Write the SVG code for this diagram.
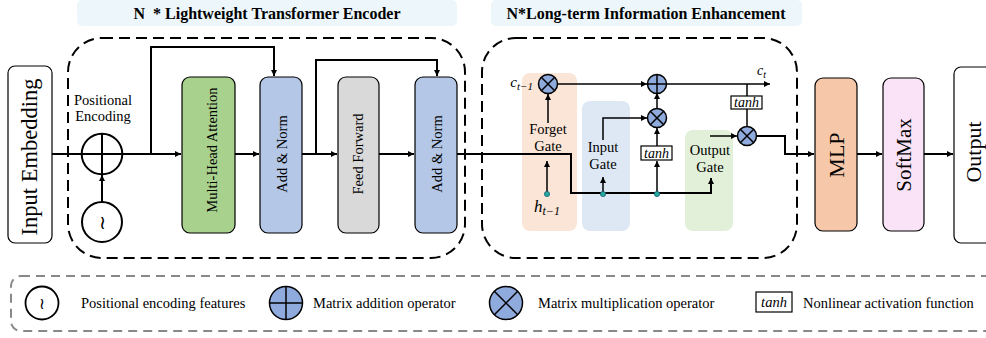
<svg xmlns="http://www.w3.org/2000/svg" width="986" height="338" viewBox="0 0 986 338">
<defs>
<marker id="ah" viewBox="0 0 10 10" refX="10" refY="5" markerWidth="6" markerHeight="6" markerUnits="userSpaceOnUse" orient="auto">
<path d="M0,0 L10,5 L0,10 z" fill="#000"/>
</marker>
<style>
.t{font-family:"Liberation Serif","Times New Roman",serif;fill:#000}
.title{font-family:"Liberation Serif","Times New Roman",serif;font-weight:bold;font-size:16px;fill:#000}
.m{font-family:"Liberation Serif","Times New Roman",serif;font-style:italic;fill:#000}
.box{stroke:#000;stroke-width:1.2}
.ln{fill:none;stroke:#000;stroke-width:2}
.ln1{fill:none;stroke:#000;stroke-width:1.5}
.op{fill:#8faadc;stroke:#000;stroke-width:1.5}
.opl{stroke:#000;stroke-width:1.5}
.dot{fill:#25a99b;stroke:#1d5f7a;stroke-width:0.8}
.dash{fill:none;stroke:#000;stroke-width:2;stroke-dasharray:11,6}
</style>
</defs>

<!-- title bands -->
<g id="title-encoder">
<rect x="77" y="0" width="380" height="26" rx="5" fill="#edf7fb"/>
<text class="title" x="267" y="19" text-anchor="middle" xml:space="preserve">N  * Lightweight Transformer Encoder</text>
</g>
<g id="title-enhancement">
<rect x="491" y="0" width="311" height="26" rx="5" fill="#edf7fb"/>
<text class="title" x="646" y="19" text-anchor="middle">N*Long-term Information Enhancement</text>
</g>

<!-- containers -->
<g id="encoder-container"><rect class="dash" x="68" y="38" width="397" height="220" rx="34"/></g>
<g id="lstm-container"><rect class="dash" x="482" y="38" width="315" height="220" rx="34"/></g>

<!-- gate backgrounds -->
<g id="forget-gate-bg"><rect x="522" y="73" width="55" height="158" rx="8" fill="#fbe5d6"/></g>
<g id="input-gate-bg"><rect x="582" y="101" width="48" height="130" rx="8" fill="#dee8f5"/></g>
<g id="output-gate-bg"><rect x="685" y="130" width="48" height="101" rx="8" fill="#e2f0d9"/></g>

<!-- connectors -->
<g id="connectors">
<line class="ln" x1="52" y1="154" x2="181" y2="154" marker-end="url(#ah)"/>
<path class="ln" d="M151,154 V47 H274 V76" marker-end="url(#ah)"/>
<line class="ln" x1="235" y1="154" x2="259" y2="154" marker-end="url(#ah)"/>
<line class="ln" x1="302" y1="154" x2="337" y2="154" marker-end="url(#ah)"/>
<path class="ln" d="M316,154 V60 H437 V76" marker-end="url(#ah)"/>
<line class="ln" x1="379" y1="154" x2="414" y2="154" marker-end="url(#ah)"/>
<line class="ln" x1="102" y1="202" x2="102" y2="175" marker-end="url(#ah)"/>
<path class="ln" d="M457,154 H571 V193 H711 V178" marker-end="url(#ah)"/>
<line class="ln1" x1="548" y1="123" x2="548" y2="94" marker-end="url(#ah)"/>
<line class="ln1" x1="547" y1="194" x2="547" y2="161" marker-end="url(#ah)"/>
<line class="ln1" x1="603" y1="194" x2="603" y2="177" marker-end="url(#ah)"/>
<line class="ln1" x1="657" y1="194" x2="657" y2="161" marker-end="url(#ah)"/>
<line class="ln1" x1="657" y1="146" x2="657" y2="128" marker-end="url(#ah)"/>
<line class="ln1" x1="657" y1="108" x2="657" y2="93" marker-end="url(#ah)"/>
<path class="ln1" d="M603,140 V118 H647" marker-end="url(#ah)"/>
<line class="ln1" x1="557" y1="84" x2="647" y2="84" marker-end="url(#ah)"/>
<line class="ln1" x1="667" y1="84" x2="770" y2="84" marker-end="url(#ah)"/>
<line class="ln1" x1="747" y1="84" x2="747" y2="96"/>
<line class="ln1" x1="747" y1="109" x2="747" y2="127"/>
<line class="ln1" x1="710" y1="136" x2="737" y2="136" marker-end="url(#ah)"/>
<path class="ln" d="M756,136 H785 V154 H814" marker-end="url(#ah)"/>
<line class="ln" x1="857" y1="154" x2="882" y2="154" marker-end="url(#ah)"/>
<line class="ln" x1="924" y1="154" x2="953" y2="154" marker-end="url(#ah)"/>
</g>

<!-- nodes -->
<g id="input-embedding">
<rect class="box" x="8" y="66" width="44" height="177" rx="7" fill="#fff"/>
<text class="t" font-size="22.5" transform="translate(37,157) rotate(-90)" text-anchor="middle">Input Embedding</text>
</g>

<g id="positional-encoding">
<text class="t" font-size="14.5" x="103" y="105" text-anchor="middle">Positional</text>
<text class="t" font-size="14.5" x="103" y="121" text-anchor="middle">Encoding</text>
<circle cx="102" cy="154" r="20.3" fill="none" stroke="#000" stroke-width="2"/>
<line x1="102" y1="134" x2="102" y2="174" stroke="#000" stroke-width="2"/>
<line x1="82" y1="154" x2="122" y2="154" stroke="#000" stroke-width="2"/>
</g>

<g id="pos-features">
<circle cx="102" cy="222" r="20" fill="#fff" stroke="#000" stroke-width="2"/>
<text x="102" y="229" font-family="'DejaVu Serif',serif" font-size="19" text-anchor="middle">≀</text>
</g>

<g id="multi-head-attention">
<rect class="box" x="182" y="77" width="53" height="156" rx="8" fill="#a9d18e"/>
<text class="t" font-size="14.5" transform="translate(217,150) rotate(-90)" text-anchor="middle">Multi-Head Attention</text>
</g>
<g id="add-norm-1">
<rect class="box" x="260" y="77" width="42" height="156" rx="8" fill="#b4c7e7"/>
<text class="t" font-size="14.5" transform="translate(287,154) rotate(-90)" text-anchor="middle">Add &amp; Norm</text>
</g>
<g id="feed-forward">
<rect class="box" x="338" y="77" width="41" height="156" rx="8" fill="#d9d9d9"/>
<text class="t" font-size="14.5" transform="translate(363,154) rotate(-90)" text-anchor="middle">Feed Forward</text>
</g>
<g id="add-norm-2">
<rect class="box" x="415" y="77" width="42" height="156" rx="8" fill="#b4c7e7"/>
<text class="t" font-size="14.5" transform="translate(442,154) rotate(-90)" text-anchor="middle">Add &amp; Norm</text>
</g>

<!-- LSTM internals -->
<g id="forget-gate">
<text class="t" font-size="14.5" x="548" y="134" text-anchor="middle">Forget</text>
<text class="t" font-size="14.5" x="548" y="151" text-anchor="middle">Gate</text>
</g>
<g id="input-gate">
<text class="t" font-size="14.5" x="603" y="152" text-anchor="middle">Input</text>
<text class="t" font-size="14.5" x="603" y="169" text-anchor="middle">Gate</text>
</g>
<g id="output-gate">
<text class="t" font-size="14.5" x="710" y="155" text-anchor="middle">Output</text>
<text class="t" font-size="14.5" x="710" y="172" text-anchor="middle">Gate</text>
</g>
<g id="c-prev"><text class="m" font-size="15" x="533" y="87" text-anchor="end">c<tspan font-size="11" dy="3">t−1</tspan></text></g>
<g id="c-t"><text class="m" font-size="14" x="757" y="75">c<tspan font-size="10" dy="3">t</tspan></text></g>
<g id="h-prev"><text class="m" font-size="17" x="547" y="212" text-anchor="middle">h<tspan font-size="12" dy="3">t−1</tspan></text></g>

<g id="forget-mult">
<circle class="op" cx="548" cy="84" r="9.5"/>
<line class="opl" x1="541.3" y1="77.3" x2="554.7" y2="90.7"/><line class="opl" x1="541.3" y1="90.7" x2="554.7" y2="77.3"/>
</g>
<g id="cell-add">
<circle class="op" cx="657" cy="84" r="9.5"/>
<line class="opl" x1="647.5" y1="84" x2="666.5" y2="84"/><line class="opl" x1="657" y1="74.5" x2="657" y2="93.5"/>
</g>
<g id="input-mult">
<circle class="op" cx="657" cy="118" r="9.5"/>
<line class="opl" x1="650.3" y1="111.3" x2="663.7" y2="124.7"/><line class="opl" x1="650.3" y1="124.7" x2="663.7" y2="111.3"/>
</g>
<g id="output-mult">
<circle class="op" cx="747" cy="136" r="9.5"/>
<line class="opl" x1="740.3" y1="129.3" x2="753.7" y2="142.7"/><line class="opl" x1="740.3" y1="142.7" x2="753.7" y2="129.3"/>
</g>
<g id="tanh-input">
<rect x="641" y="146" width="31" height="14" fill="#fff" stroke="#000" stroke-width="1.2"/>
<text class="m" font-size="14" x="656.5" y="157.5" text-anchor="middle">tanh</text>
</g>
<g id="tanh-output">
<rect x="731" y="96" width="31" height="13" fill="#fff" stroke="#000" stroke-width="1.2"/>
<text class="m" font-size="14" x="746.5" y="107" text-anchor="middle">tanh</text>
</g>
<g id="dots">
<circle class="dot" cx="547" cy="194" r="2.6"/>
<circle class="dot" cx="603" cy="194" r="2.6"/>
<circle class="dot" cx="657" cy="194" r="2.6"/>
</g>

<g id="mlp">
<rect class="box" x="815" y="78" width="42" height="153" rx="8" fill="#f6c8a9"/>
<text class="t" font-size="22" transform="translate(844,155) rotate(-90)" text-anchor="middle">MLP</text>
</g>
<g id="softmax">
<rect class="box" x="883" y="78" width="41" height="153" rx="8" fill="#fbe3f7"/>
<text class="t" font-size="21" transform="translate(911,155) rotate(-90)" text-anchor="middle">SoftMax</text>
</g>
<g id="output">
<rect class="box" x="954" y="67" width="50" height="176" rx="7" fill="#fff"/>
<text class="t" font-size="22" transform="translate(981,152) rotate(-90)" text-anchor="middle">Output</text>
</g>

<!-- legend -->
<g id="legend">
<rect x="11" y="276" width="990" height="55" rx="10" fill="none" stroke="#888" stroke-width="2" stroke-dasharray="9,6"/>
<circle cx="42" cy="303" r="16.5" fill="#fff" stroke="#000" stroke-width="1.8"/>
<text x="42" y="309" font-family="'DejaVu Serif',serif" font-size="16" text-anchor="middle">≀</text>
<text class="t" font-size="14.5" x="81" y="308">Positional encoding features</text>
<circle class="op" cx="286" cy="303" r="16.5" stroke-width="1.8"/>
<line class="opl" x1="269.5" y1="303" x2="302.5" y2="303" stroke-width="1.8"/><line class="opl" x1="286" y1="286.5" x2="286" y2="319.5" stroke-width="1.8"/>
<text class="t" font-size="14.5" x="313" y="308">Matrix addition operator</text>
<circle class="op" cx="506" cy="303" r="16.5" stroke-width="1.8"/>
<line class="opl" x1="494.3" y1="291.3" x2="517.7" y2="314.7" stroke-width="1.8"/><line class="opl" x1="494.3" y1="314.7" x2="517.7" y2="291.3" stroke-width="1.8"/>
<text class="t" font-size="14.5" x="538" y="308">Matrix multiplication operator</text>
<rect x="756" y="292" width="36" height="20" fill="#fff" stroke="#000" stroke-width="1.2"/>
<text class="m" font-size="14.5" x="774" y="306.5" text-anchor="middle">tanh</text>
<text class="t" font-size="14.5" x="803" y="308">Nonlinear activation function</text>
</g>
</svg>
